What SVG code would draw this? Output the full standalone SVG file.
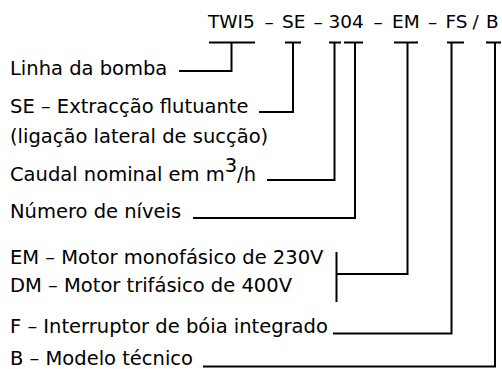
<svg xmlns="http://www.w3.org/2000/svg" width="502" height="369" viewBox="0 0 502 369">
<style>
text{font-family:"DejaVu Sans","Liberation Sans",sans-serif;fill:#000}
.lbl{font-size:19.5px}
.code{font-size:18.5px}
.ln{fill:none;stroke:#000;stroke-width:2;stroke-linecap:butt;stroke-linejoin:miter}
</style>
<rect width="502" height="369" fill="#fff"/>
<g id="code">
<text class="code" y="28"><tspan x="208">TWI5</tspan><tspan x="264.5">–</tspan><tspan x="282">SE</tspan><tspan x="313.5">–</tspan><tspan x="328.5">304</tspan><tspan x="373.5">–</tspan><tspan x="392">EM</tspan><tspan x="428">–</tspan><tspan x="445.5">FS</tspan><tspan x="472.5">/</tspan><tspan x="486">B</tspan></text>
</g>
<g id="n-linha"><text class="lbl" x="10" y="75">Linha da bomba</text></g>
<g id="n-se"><text class="lbl" x="10" y="113">SE – Extracção flutuante</text><text class="lbl" x="10" y="143">(ligação lateral de sucção)</text></g>
<g id="n-caudal"><text class="lbl" x="10" y="181">Caudal nominal em m<tspan dy="-9">3</tspan><tspan dy="9">/h</tspan></text></g>
<g id="n-niveis"><text class="lbl" x="10" y="218">Número de níveis</text></g>
<g id="n-motor"><text class="lbl" x="10" y="264">EM – Motor monofásico de 230V</text><text class="lbl" x="10" y="292">DM – Motor trifásico de 400V</text></g>
<g id="n-boia"><text class="lbl" x="10" y="333">F – Interruptor de bóia integrado</text></g>
<g id="n-modelo"><text class="lbl" x="10" y="365">B – Modelo técnico</text></g>
<g id="connectors" class="ln">
<path class="ln" d="M209,42.5H255M231.5,42.5V71H179"/>
<path class="ln" d="M285,42.5H301M293,42.5V112H259"/>
<path class="ln" d="M329,42.5H341M334.5,42.5V180H267"/>
<path class="ln" d="M344,42.5H363M355,42.5V218H193"/>
<path class="ln" d="M394,42.5H418M407.5,42.5V274H337M336.5,252V302"/>
<path class="ln" d="M447,42.5H464M451.5,42.5V333.5H333"/>
<path class="ln" d="M486,42.5H501M495,42.5V366.5H203"/>
</g>
</svg>
